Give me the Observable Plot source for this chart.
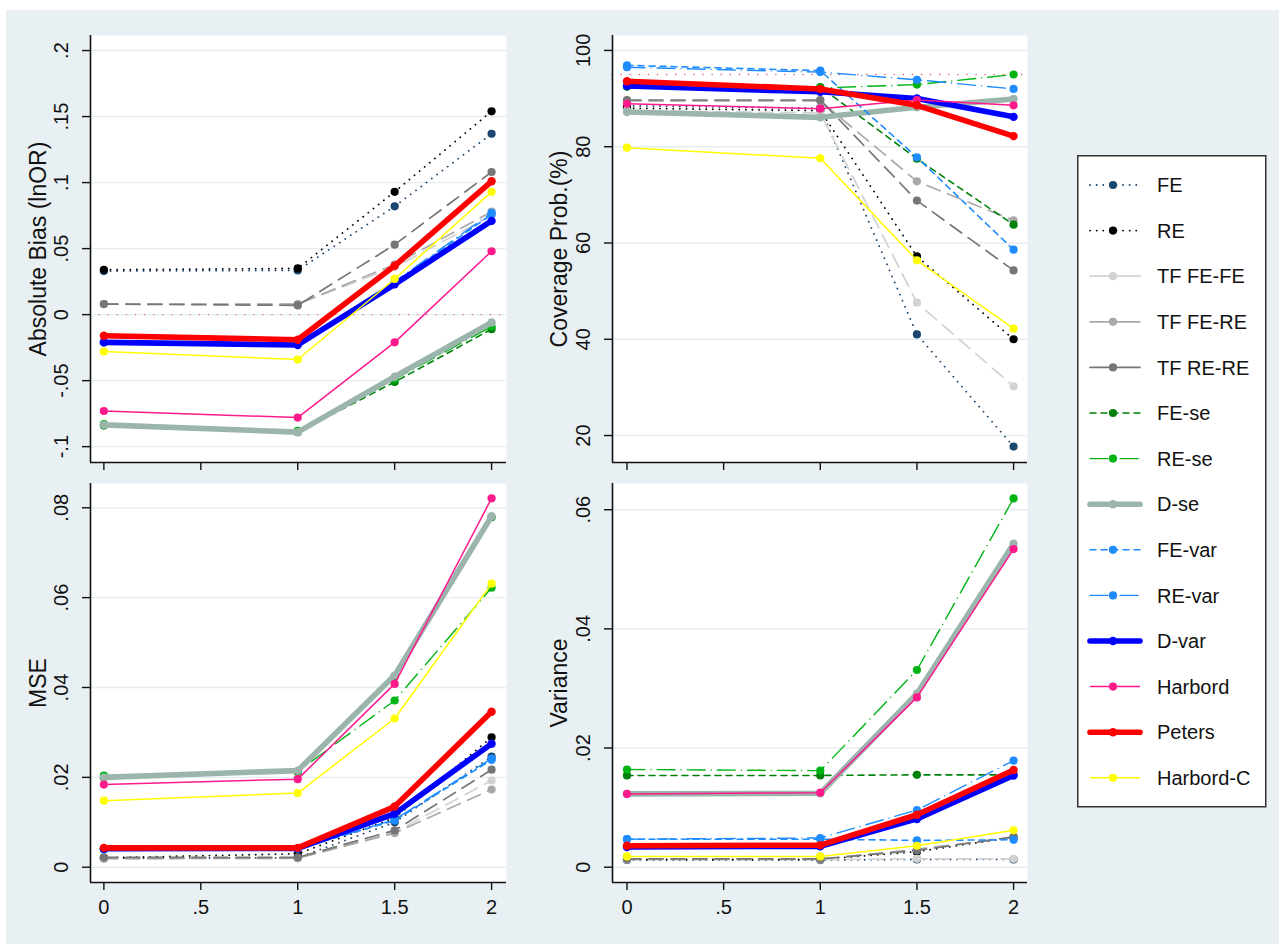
<!DOCTYPE html>
<html>
<head>
<meta charset="utf-8">
<script src="https://cdn.jsdelivr.net/npm/d3@7"></script>
<script src="https://cdn.jsdelivr.net/npm/@observablehq/plot@0.6"></script>
<style>
  html, body { margin: 0; padding: 0; background: #ffffff; }
  #fig { position: relative; width: 1279px; height: 944px; overflow: hidden; background: #ffffff; }
  #bg { position: absolute; left: 6px; top: 10px; right: 0; bottom: 0; background: #e8f0f3; }
  .panel { position: absolute; }
  .panel svg { overflow: visible; }
  .panel g[aria-label="y-axis label"], .panel g[aria-label="y-axis label"] text { font-size: 23px; }
</style>
</head>
<body>
<div id="fig"><div id="bg"></div></div>
<script>
// Heterogeneity level (x axis) at which each scenario was simulated
const xs = [0, 1, 1.5, 2];
const xTicks = [0, 0.5, 1, 1.5, 2];
const xTickLabels = ["0", ".5", "1", "1.5", "2"];

// Methods, in drawing / legend order
const methods = ["FE", "RE", "TF FE-FE", "TF FE-RE", "TF RE-RE", "FE-se", "RE-se",
  "D-se", "FE-var", "RE-var", "D-var", "Harbord", "Peters", "Harbord-C"];

// Absolute bias (lnOR), one row per method, one value per x
const bias = [
  [0.033, 0.0335, 0.082, 0.137],
  [0.034, 0.035, 0.093, 0.154],
  [0.008, 0.008, 0.036, 0.075],
  [0.008, 0.008, 0.038, 0.078],
  [0.008, 0.007, 0.053, 0.108],
  [-0.084, -0.089, -0.051, -0.011],
  [-0.083, -0.088, -0.049, -0.009],
  [-0.0835, -0.089, -0.047, -0.006],
  [-0.021, -0.022, 0.024, 0.076],
  [-0.021, -0.022, 0.025, 0.077],
  [-0.021, -0.023, 0.023, 0.071],
  [-0.073, -0.078, -0.021, 0.048],
  [-0.016, -0.019, 0.037, 0.101],
  [-0.028, -0.034, 0.027, 0.093]
];
const biasTicks = [-0.1, -0.05, 0, 0.05, 0.1, 0.15, 0.2];
const biasTickLabels = ["-.1", "-.05", "0", ".05", ".1", ".15", ".2"];

// Coverage probability (%)
const coverage = [
  [88.5, 88, 41, 17.7],
  [88, 87.5, 57.2, 40],
  [87.5, 87, 47.6, 30.2],
  [89.5, 89.5, 72.8, 64.7],
  [89.7, 89.7, 68.8, 54.3],
  [92.5, 92.4, 77.5, 63.8],
  [92.5, 92.2, 92.9, 95.0],
  [87.2, 86.1, 88.2, 89.9],
  [96.9, 95.8, 77.8, 58.6],
  [96.5, 95.5, 93.9, 92.0],
  [92.6, 91.4, 90.0, 86.2],
  [88.9, 87.9, 89.7, 88.6],
  [93.6, 92.0, 88.6, 82.2],
  [79.8, 77.6, 56.4, 42.2]
];
const coverageTicks = [20, 40, 60, 80, 100];
const coverageTickLabels = ["20", "40", "60", "80", "100"];

// Mean squared error
const mse = [
  [0.0020, 0.0021, 0.0100, 0.0246],
  [0.0021, 0.0030, 0.0110, 0.0289],
  [0.0019, 0.0020, 0.0078, 0.0193],
  [0.0019, 0.0020, 0.0076, 0.0173],
  [0.0022, 0.0022, 0.0082, 0.0217],
  [0.0199, 0.0212, 0.0424, 0.0779],
  [0.0204, 0.0213, 0.0371, 0.0622],
  [0.0200, 0.0215, 0.0427, 0.0781],
  [0.0040, 0.0041, 0.0104, 0.0239],
  [0.0040, 0.0041, 0.0106, 0.0242],
  [0.0041, 0.0042, 0.0119, 0.0275],
  [0.0184, 0.0196, 0.0408, 0.0821],
  [0.0043, 0.0043, 0.0135, 0.0346],
  [0.0148, 0.0165, 0.0331, 0.0631]
];
const mseTicks = [0, 0.02, 0.04, 0.06, 0.08];
const mseTickLabels = ["0", ".02", ".04", ".06", ".08"];

// Variance of the estimate
const variance = [
  [0.0012, 0.0012, 0.0013, 0.0013],
  [0.0013, 0.0013, 0.0026, 0.0050],
  [0.0013, 0.0013, 0.0014, 0.0014],
  [0.0013, 0.0013, 0.0030, 0.0050],
  [0.0014, 0.0014, 0.0028, 0.0051],
  [0.0154, 0.0154, 0.0155, 0.0155],
  [0.0164, 0.0162, 0.0331, 0.0619],
  [0.0123, 0.0124, 0.0291, 0.0543],
  [0.0047, 0.0047, 0.0045, 0.0046],
  [0.0047, 0.0049, 0.0096, 0.0179],
  [0.0034, 0.0035, 0.0081, 0.0154],
  [0.0123, 0.0125, 0.0285, 0.0534],
  [0.0036, 0.0037, 0.0088, 0.0163],
  [0.0018, 0.0018, 0.0036, 0.0062]
];
const varianceTicks = [0, 0.02, 0.04, 0.06];
const varianceTickLabels = ["0", ".02", ".04", ".06"];

// Line look for each method
const DOT = "0.1,6.5", LONG = "14,8", SHORT = "6,5", LONGDOT = "18,6,0.1,6";
const looks = {
  "FE":        {color: "#1a476f", width: 1.8, dash: DOT,     r: 4.1},
  "RE":        {color: "#000000", width: 1.8, dash: DOT,     r: 4.1},
  "TF FE-FE":  {color: "#d2d2d2", width: 1.7, dash: LONG,    r: 4.1},
  "TF FE-RE":  {color: "#a9a9a9", width: 1.7, dash: LONG,    r: 4.1},
  "TF RE-RE":  {color: "#767676", width: 1.7, dash: LONG,    r: 4.1},
  "FE-se":     {color: "#00820a", width: 1.6, dash: SHORT,   r: 4.1},
  "RE-se":     {color: "#00b414", width: 1.4, dash: LONGDOT, r: 4.1},
  "D-se":      {color: "#9bb5ad", width: 5.6, dash: null,    r: 4.2},
  "FE-var":    {color: "#1e8cff", width: 1.6, dash: SHORT,   r: 4.1},
  "RE-var":    {color: "#1e8cff", width: 1.4, dash: LONGDOT, r: 4.1},
  "D-var":     {color: "#0000ff", width: 5.6, dash: null,    r: 4.2},
  "Harbord":   {color: "#ff1a8c", width: 1.5, dash: null,    r: 4.1},
  "Peters":    {color: "#ff0000", width: 5.6, dash: null,    r: 4.2},
  "Harbord-C": {color: "#ffff00", width: 1.5, dash: null,    r: 4.1}
};

const FONT = "'Liberation Sans', Arial, Helvetica, sans-serif";
const fig = document.getElementById("fig");

function rowsOf(values) {
  return methods.flatMap((m, i) => xs.map((x, j) => ({method: m, x, v: values[i][j]})));
}

function panel(opts) {
  const {values, yDomain, yTicks, yTickLabels, label, xLabels, left, top, width, height,
    margin, xDomain, refY, labelOffset} = opts;
  const rows = rowsOf(values);
  const seriesMarks = methods.flatMap(m => {
    const lk = looks[m];
    const data = rows.filter(d => d.method === m);
    return [
      Plot.line(data, {x: "x", y: "v", stroke: lk.color, strokeWidth: lk.width,
        strokeDasharray: lk.dash ?? undefined, strokeLinecap: lk.dash ? "round" : "butt"}),
      Plot.dot(data, {x: "x", y: "v", fill: lk.color, r: lk.r, stroke: "none"})
    ];
  });
  const chart = Plot.plot({
    width, height,
    marginLeft: margin[3], marginRight: margin[1], marginTop: margin[0], marginBottom: margin[2],
    x: {domain: xDomain},
    y: {domain: yDomain},
    style: {fontFamily: FONT, fontSize: "20px", background: "transparent", color: "#111"},
    marks: [
      Plot.frame({fill: "#ffffff", stroke: null}),
      Plot.gridY(yTicks, {stroke: "#e4edf0", strokeOpacity: 1, strokeWidth: 1.4}),
      refY != null ? Plot.ruleY([refY], {stroke: "#e5506e", strokeWidth: 1.4, strokeDasharray: "0.1,9", strokeLinecap: "round"}) : null,
      ...seriesMarks,
      Plot.ruleX([xDomain[0]], {stroke: "#111", strokeWidth: 1.6}),
      Plot.ruleY([yDomain[0]], {stroke: "#111", strokeWidth: 1.6}),
      Plot.axisY(yTicks, {
        tickFormat: d => yTickLabels[yTicks.indexOf(d)],
        tickSize: 8, tickRotate: -90, tickPadding: 15, fontSize: 20, stroke: "#111", strokeWidth: 1.4,
        label, labelAnchor: "center", labelOffset, labelArrow: "none", fontFamily: FONT
      }),
      Plot.axisX(xTicks, {
        tickFormat: xLabels ? d => xTickLabels[xTicks.indexOf(d)] : () => "",
        tickSize: 8, tickPadding: 9, fontSize: 20, stroke: "#111", strokeWidth: 1.4, label: null
      })
    ]
  });
  const holder = document.createElement("div");
  holder.className = "panel";
  holder.style.left = left + "px";
  holder.style.top = top + "px";
  holder.appendChild(chart);
  fig.appendChild(holder);
}

// Absolute bias
panel({values: bias, yDomain: [-0.112, 0.2114], yTicks: biasTicks, yTickLabels: biasTickLabels,
  label: "Absolute Bias (lnOR)", xLabels: false, left: 0, top: 0, width: 520, height: 480,
  margin: [35, 14, 18, 90], xDomain: [-0.069, 2.077], refY: 0, labelOffset: 61});

// Coverage probability
panel({values: coverage, yDomain: [14.4, 103.1], yTicks: coverageTicks, yTickLabels: coverageTickLabels,
  label: "Coverage Prob.(%)", xLabels: false, left: 530, top: 0, width: 510, height: 480,
  margin: [35, 13, 18, 82], xDomain: [-0.075, 2.072], refY: 95, labelOffset: 62});

// MSE
panel({values: mse, yDomain: [-0.0034, 0.0854], yTicks: mseTicks, yTickLabels: mseTickLabels,
  label: "MSE", xLabels: true, left: 0, top: 470, width: 520, height: 474,
  margin: [13, 14, 62, 90], xDomain: [-0.069, 2.077], refY: null, labelOffset: 61});

// Variance
panel({values: variance, yDomain: [-0.00257, 0.0644], yTicks: varianceTicks, yTickLabels: varianceTickLabels,
  label: "Variance", xLabels: true, left: 530, top: 470, width: 510, height: 474,
  margin: [13, 13, 62, 82], xDomain: [-0.075, 2.072], refY: null, labelOffset: 62});

// Legend box on the right
(function legend() {
  const L = {x: 1077, y: 155, w: 188, h: 651};
  const svg = d3.select(fig).append("svg")
    .attr("class", "panel")
    .style("left", L.x + "px").style("top", L.y + "px")
    .attr("width", L.w + 2).attr("height", L.h + 2)
    .style("overflow", "visible");
  svg.append("rect").attr("x", 0.75).attr("y", 0.75).attr("width", L.w).attr("height", L.h)
    .attr("fill", "#ffffff").attr("stroke", "#333").attr("stroke-width", 1.5);
  const step = 45.6, y0 = 30;
  methods.forEach((m, i) => {
    const lk = looks[m];
    const g = svg.append("g").attr("transform", `translate(0,${y0 + i * step})`);
    g.append("line").attr("x1", 13).attr("x2", 63).attr("y1", 0).attr("y2", 0)
      .attr("stroke", lk.color).attr("stroke-width", lk.width)
      .attr("stroke-dasharray", lk.dash === LONG ? null : lk.dash)
      .attr("stroke-linecap", lk.dash ? "round" : (lk.width > 3 ? "round" : "butt"));
    g.append("circle").attr("cx", 36).attr("cy", 0).attr("r", lk.r).attr("fill", lk.color);
    g.append("text").attr("x", 80).attr("y", 0).attr("dy", "0.36em")
      .attr("font-family", FONT).attr("font-size", 20).attr("fill", "#111").text(m);
  });
})();
</script>
</body>
</html>
